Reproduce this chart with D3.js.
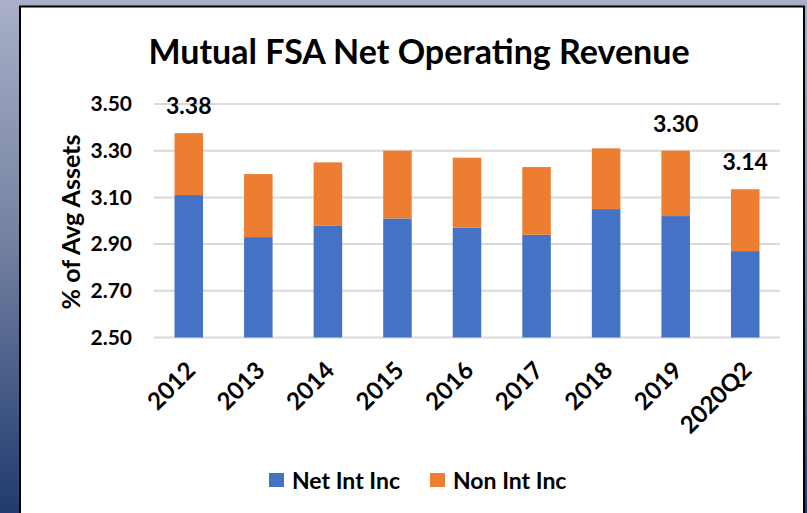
<html>
<head>
<script src="https://cdn.jsdelivr.net/npm/d3@7"></script>
<style>
body { margin: 0; overflow: hidden; }
text { font-family: Lato, "Open Sans", sans-serif; font-weight: bold; fill: #000; }
</style>
</head>
<body>
<script>
// chart values
var years = ["2012", "2013", "2014", "2015", "2016", "2017", "2018", "2019", "2020Q2"];
var netIntInc = [3.11, 2.93, 2.98, 3.01, 2.97, 2.94, 3.05, 3.02, 2.87];
var nonIntInc = [0.265, 0.27, 0.27, 0.29, 0.30, 0.29, 0.26, 0.28, 0.265];
var totalLabels = ["3.38", null, null, null, null, null, null, "3.30", "3.14"];
var yTicks = [2.5, 2.7, 2.9, 3.1, 3.3, 3.5];
var seriesNames = ["Net Int Inc", "Non Int Inc"];
var colors = ["#4472C4", "#ED7D31"];

var W = 807, H = 513;
var svg = d3.select("body").append("svg").attr("width", W).attr("height", H);

// slide background
var defs = svg.append("defs");
var grad = defs.append("linearGradient").attr("id", "bg").attr("x1", 0).attr("y1", 0).attr("x2", 0).attr("y2", 1);
grad.append("stop").attr("offset", "0%").attr("stop-color", "#a9b0c7");
grad.append("stop").attr("offset", "45%").attr("stop-color", "#7683a3");
grad.append("stop").attr("offset", "100%").attr("stop-color", "#203c70");
svg.append("rect").attr("width", W).attr("height", H).attr("fill", "url(#bg)");

// chart panel
svg.append("rect")
    .attr("x", 20).attr("y", 6.5).attr("width", 784).attr("height", 520)
    .attr("fill", "#fff").attr("stroke", "#000").attr("stroke-width", 2);

var x = d3.scaleBand().domain(years).range([154, 780]).paddingInner(0.59).paddingOuter(0.295);
var y = d3.scaleLinear().domain([2.5, 3.5]).range([337.5, 104]);

// gridlines
svg.append("g").selectAll("line").data(yTicks).enter().append("line")
    .attr("x1", 154).attr("x2", 780)
    .attr("y1", function(d) { return y(d); }).attr("y2", function(d) { return y(d); })
    .attr("stroke", "#d9d9d9").attr("stroke-width", 2);

// y axis labels
var yAxis = svg.append("g")
    .attr("transform", "translate(154,0)")
    .call(d3.axisLeft(y).tickValues(yTicks).tickFormat(d3.format(".2f")).tickSize(0).tickPadding(22));
yAxis.select(".domain").remove();
yAxis.selectAll("text").style("font-size", "21px").attr("font-family", null);

// stacked bars
var rows = years.map(function(yr, i) {
    return {year: yr, net: netIntInc[i], non: nonIntInc[i], label: totalLabels[i]};
});
var bars = svg.append("g");
bars.selectAll("rect.net").data(rows).enter().append("rect")
    .attr("class", "net")
    .attr("x", function(d) { return x(d.year); })
    .attr("width", x.bandwidth())
    .attr("y", function(d) { return y(d.net); })
    .attr("height", function(d) { return y(2.5) - y(d.net); })
    .attr("fill", colors[0]);
bars.selectAll("rect.non").data(rows).enter().append("rect")
    .attr("class", "non")
    .attr("x", function(d) { return x(d.year); })
    .attr("width", x.bandwidth())
    .attr("y", function(d) { return y(d.net + d.non); })
    .attr("height", function(d) { return y(d.net) - y(d.net + d.non); })
    .attr("fill", colors[1]);

// total labels
svg.append("g").selectAll("text").data(rows.filter(function(d) { return d.label; })).enter().append("text")
    .attr("x", function(d) { return x(d.year) + x.bandwidth() / 2; })
    .attr("y", function(d) { return y(d.net + d.non) - 19; })
    .attr("text-anchor", "middle")
    .style("font-size", "23px")
    .text(function(d) { return d.label; });

// x axis labels
svg.append("g").selectAll("text").data(years).enter().append("text")
    .attr("transform", function(d) {
        return "translate(" + (x(d) + x.bandwidth() / 2 + 8) + ",372) rotate(-45)";
    })
    .attr("text-anchor", "end")
    .style("font-size", "24px")
    .text(function(d) { return d; });

// title
svg.append("text")
    .attr("x", 419).attr("y", 64)
    .attr("text-anchor", "middle")
    .style("font-size", "34px")
    .text("Mutual FSA Net Operating Revenue");

// y axis title
svg.append("text")
    .attr("transform", "translate(80,222) rotate(-90)")
    .attr("text-anchor", "middle")
    .style("font-size", "25px")
    .text("% of Avg Assets");

// legend
var legendX = [269, 430];
var legend = svg.append("g").selectAll("g").data(seriesNames).enter().append("g")
    .attr("transform", function(d, i) { return "translate(" + legendX[i] + ",473)"; });
legend.append("rect").attr("width", 15).attr("height", 14)
    .attr("fill", function(d, i) { return colors[i]; });
legend.append("text").attr("x", 23).attr("y", 16)
    .style("font-size", "23px")
    .text(function(d) { return d; });
</script>
</body>
</html>
